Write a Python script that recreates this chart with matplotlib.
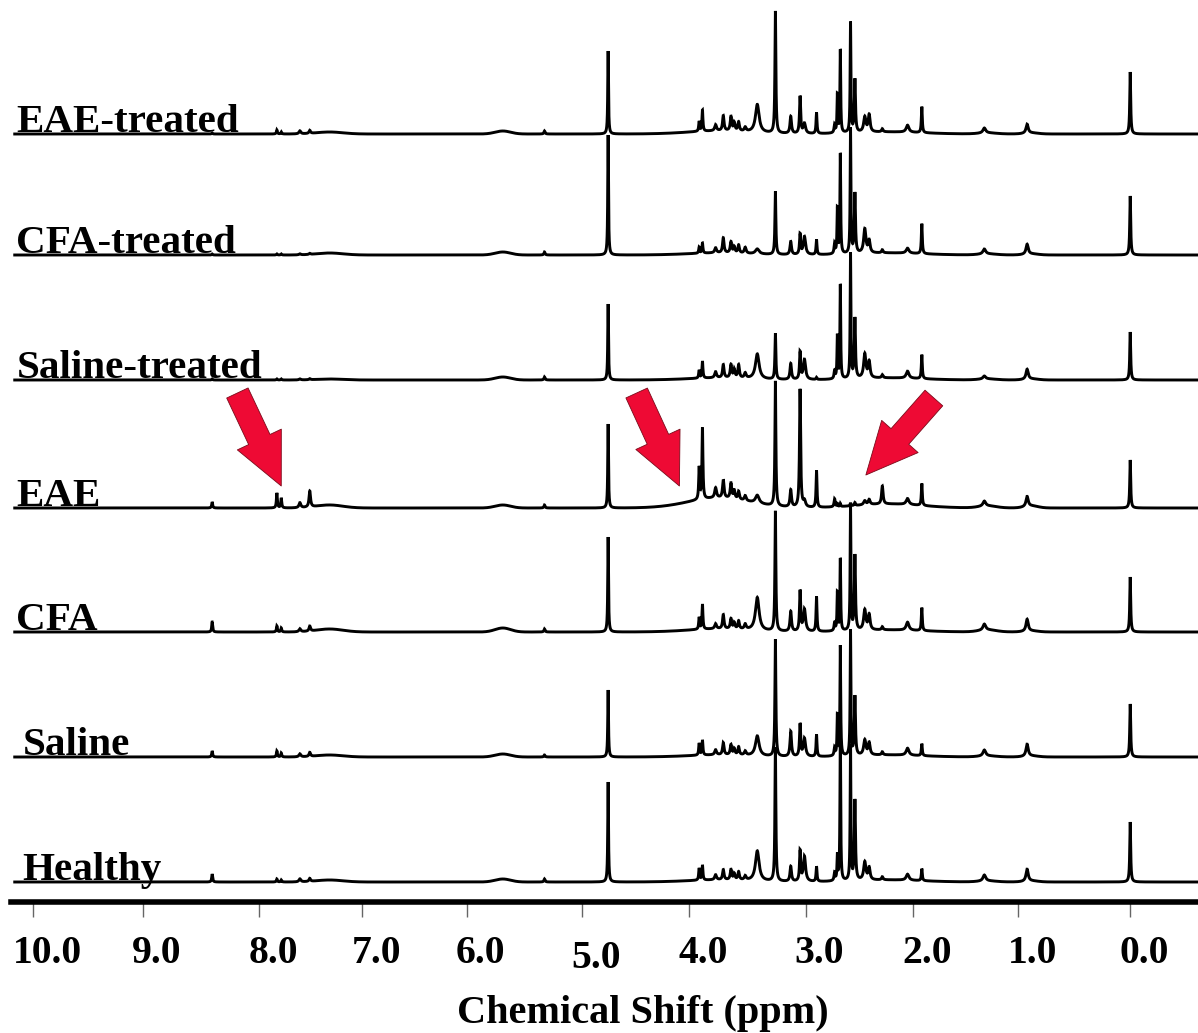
import numpy as np
import matplotlib
matplotlib.use("Agg")
import matplotlib.pyplot as plt
from matplotlib.transforms import ScaledTranslation

plt.rcParams['font.family'] = ['Liberation Serif', 'DejaVu Serif']
plt.rcParams['font.weight'] = 'bold'

# groups, top to bottom
groups = ['EAE-treated', 'CFA-treated', 'Saline-treated', 'EAE', 'CFA', 'Saline', 'Healthy']

# sharp resonances (ppm) and their half-widths (ppm)
peak_ppm = [8.37, 7.78, 7.74, 7.57, 7.48, 5.34, 4.76, 3.93, 3.90, 3.78, 3.71, 3.64,
            3.61, 3.57, 3.51, 3.40, 3.235, 3.095, 3.01, 2.97, 2.86, 2.695, 2.67,
            2.643, 2.55, 2.51, 2.42, 2.38, 2.26, 2.03, 1.90, 1.33, 0.94, 0.00]
peak_hw = [0.005, 0.005, 0.005, 0.010, 0.008, 0.006, 0.004, 0.005, 0.005, 0.010, 0.008, 0.008,
           0.008, 0.008, 0.010, 0.020, 0.005, 0.008, 0.006, 0.012, 0.005, 0.006, 0.004,
           0.004, 0.004, 0.006, 0.012, 0.010, 0.008, 0.015, 0.005, 0.015, 0.012, 0.005]

# peak heights per group (same order as peak_ppm)
h_eae_treated = [1, 4, 2, 3, 3, 3, 83, 10, 21, 6, 15, 14, 8, 9, 4, 28, 122, 17, 37, 10, 21, 8, 38,
                 83, 110, 53, 15, 17, 3, 7, 26, 5, 9, 62]
h_cfa_treated = [1, 1, 1, 1, 1, 3, 120, 6, 10, 5, 15, 11, 6, 8, 6, 5, 63, 13, 20, 18, 15, 10, 45,
                 100, 125, 60, 24, 12, 3, 5, 30, 5, 10, 59]
h_saline_treated = [1, 1, 1, 1, 1, 3, 76, 8, 17, 6, 13, 13, 8, 13, 5, 25, 46, 16, 27, 20, 2, 8, 43,
                    94, 125, 60, 24, 16, 3, 7, 24, 3, 10, 48]
h_eae = [6, 15, 10, 5, 16, 3, 84, 32, 71, 10, 18, 15, 8, 8, 5, 8, 125, 17, 118, 6, 37, 8, 3,
         3, 3, 3, 4, 5, 18, 6, 22, 5, 10, 48]
h_cfa = [10, 6, 4, 3, 5, 3, 95, 12, 25, 5, 14, 10, 6, 8, 5, 33, 120, 20, 40, 22, 35, 8, 38,
         72, 125, 75, 20, 15, 3, 8, 23, 6, 12, 55]
h_saline = [6, 6, 4, 3, 4, 2, 67, 12, 15, 5, 12, 10, 6, 8, 4, 20, 117, 25, 32, 18, 22, 8, 40,
            110, 125, 59, 15, 12, 3, 7, 12, 6, 12, 53]
h_healthy = [8, 3, 2, 3, 3, 3, 100, 12, 15, 5, 10, 10, 6, 8, 4, 30, 134, 15, 30, 25, 15, 8, 25,
             147, 135, 80, 18, 12, 3, 6, 12, 6, 12, 60]

# broad humps
hump_ppm = [7.30, 5.72, 3.75, 2.20, 1.30, 0.90]
hump_sd = [0.12, 0.07, 0.28, 0.30, 0.08, 0.06]
hump_eae_treated = [2, 3, 3, 2, 1, 1]
hump_cfa_treated = [2, 3, 2, 2, 1, 1]
hump_saline_treated = [1, 3, 2, 2, 1, 1]
hump_eae = [3, 3, 10, 4, 2, 2]
hump_cfa = [3, 4, 3, 2, 2, 1]
hump_saline = [2, 3, 2, 2, 1, 1]
hump_healthy = [2, 3, 2, 2, 1, 1]

heights = [h_eae_treated, h_cfa_treated, h_saline_treated, h_eae, h_cfa, h_saline, h_healthy]
humps = [hump_eae_treated, hump_cfa_treated, hump_saline_treated, hump_eae, hump_cfa,
         hump_saline, hump_healthy]

# vertical stacking offsets
offsets = [768, 647, 522, 394, 270, 145, 20]

tick_pos = [10.0, 9.0, 7.94, 7.0, 6.05, 5.0, 4.02, 2.96, 1.98, 1.02, 0.0]
tick_labels = ['10.0', '9.0', '8.0', '7.0', '6.0', '5.0', '4.0', '3.0', '2.0', '1.0', '0.0']


def spectrum(ppm, h, hh):
    y = np.zeros_like(ppm)
    for c, a, w in zip(peak_ppm, h, peak_hw):
        y += a * w**2 / ((ppm - c)**2 + w**2)
    for c, a, s in zip(hump_ppm, hh, hump_sd):
        y += a * np.exp(-0.5 * ((ppm - c) / s)**2)
    return y


W, H = 1198, 1033
fig = plt.figure(figsize=(W / 100, H / 100), dpi=100)
ax = fig.add_axes([11 / W, (H - 902) / H, 1 - 11 / W, 902 / H])

ppm = np.linspace(10.17, -0.62, 24000)
for name, h, hh, off in zip(groups, heights, humps, offsets):
    ax.plot(ppm, off + spectrum(ppm, h, hh), color='black', lw=2.1, solid_joinstyle='miter')
    lx = 10.10 if name in ('Saline', 'Healthy') else 10.155
    ax.text(lx, off + 2, name, fontsize=29.6, fontweight='bold', ha='left', va='baseline')

ax.set_xlim(10.204, -0.618)
ax.set_ylim(0, 902)

for s in ['top', 'right', 'left']:
    ax.spines[s].set_visible(False)
ax.spines['bottom'].set_linewidth(4.0)
ax.set_yticks([])
ax.set_xticks(tick_pos)
ax.set_xticklabels(tick_labels, fontsize=28.5, fontweight='bold')
ax.tick_params(axis='x', direction='out', length=11, width=1.0, color='#666666', pad=13)
ax.xaxis.get_major_ticks()[5].set_pad(16)

shift = ScaledTranslation(14 / 100, 0, fig.dpi_scale_trans)
for lbl in ax.get_xticklabels():
    lbl.set_transform(lbl.get_transform() + shift)

fig.text(643 / W, 10 / H, 'Chemical Shift (ppm)', fontsize=29, fontweight='bold',
         ha='center', va='baseline')

# red arrows (tail -> tip), in data coords
arrows = [((8.14, 509), (7.74, 416)), ((4.50, 509), (4.11, 416)), ((1.79, 504), (2.41, 427))]
for tail, tip in arrows:
    ax.annotate('', xy=tip, xytext=tail,
                arrowprops=dict(arrowstyle='simple,head_length=37,head_width=35,tail_width=17',
                                mutation_scale=1, fc='#EE0A34', ec='#7a0a1a', lw=0.6,
                                shrinkA=0, shrinkB=0))

fig.savefig('out.png', dpi=100)
